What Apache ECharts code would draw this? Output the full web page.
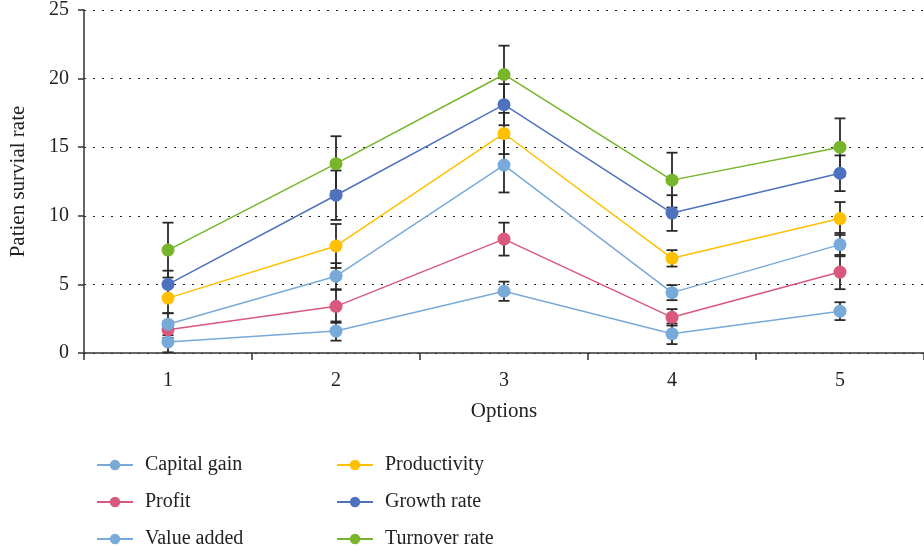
<!DOCTYPE html>
<html>
<head>
<meta charset="utf-8">
<script src="https://cdn.jsdelivr.net/npm/echarts@6/dist/echarts.min.js"></script>
<style>html,body{margin:0;padding:0;background:#fff;}#c{width:924px;height:552px;}</style>
</head>
<body>
<div id="c"></div>
<script>
const categories = ['1', '2', '3', '4', '5'];
const seriesNames = ['Capital gain', 'Profit', 'Value added', 'Productivity', 'Growth rate', 'Turnover rate'];
const capitalGain = [0.8, 1.6, 4.5, 1.4, 3.05];
const profit = [1.7, 3.4, 8.3, 2.6, 5.9];
const valueAdded = [2.1, 5.6, 13.7, 4.4, 7.9];
const productivity = [4.0, 7.8, 16.0, 6.9, 9.8];
const growthRate = [5.0, 11.5, 18.1, 10.2, 13.1];
const turnoverRate = [7.5, 13.8, 20.3, 12.6, 15.0];
const errCapitalGain = [0.75, 0.7, 0.7, 0.75, 0.65];
const errProfit = [0.6, 1.2, 1.2, 0.6, 1.25];
const errValueAdded = [0.8, 0.95, 2.0, 0.55, 0.85];
const errProductivity = [1.1, 1.6, 1.5, 0.6, 1.2];
const errGrowthRate = [1.0, 1.8, 1.5, 1.3, 1.3];
const errTurnoverRate = [2.0, 2.0, 2.1, 2.0, 2.1];
const yTicks = [0, 5, 10, 15, 20, 25];

const colors = ['#78AAD9', '#D9587D', '#78AAD9', '#FFC000', '#4F72BE', '#77B52A'];
const values = [capitalGain, profit, valueAdded, productivity, growthRate, turnoverRate];
const errs = [errCapitalGain, errProfit, errValueAdded, errProductivity, errGrowthRate, errTurnoverRate];
const font = 'Liberation Serif';

const chart = echarts.init(document.getElementById('c'));
const series = [];
values.forEach((vals, i) => {
  series.push({
    type: 'custom',
    name: seriesNames[i] + ' err',
    z: 1,
    silent: true,
    renderItem: function (params, api) {
      const x = api.value(0);
      const lo = api.coord([x, api.value(1)]);
      const hi = api.coord([x, api.value(2)]);
      const hw = 5.5;
      const st = { stroke: '#2a2a2a', lineWidth: 1.8 };
      return {
        type: 'group',
        children: [
          { type: 'line', shape: { x1: lo[0], y1: lo[1], x2: hi[0], y2: hi[1] }, style: st },
          { type: 'line', shape: { x1: lo[0] - hw, y1: lo[1], x2: lo[0] + hw, y2: lo[1] }, style: st },
          { type: 'line', shape: { x1: hi[0] - hw, y1: hi[1], x2: hi[0] + hw, y2: hi[1] }, style: st }
        ]
      };
    },
    encode: { x: 0, y: [1, 2] },
    data: vals.map((v, j) => [j, v - errs[i][j], v + errs[i][j]])
  });
});
values.forEach((vals, i) => {
  series.push({
    type: 'line',
    name: seriesNames[i],
    z: 3,
    data: vals,
    symbol: 'circle',
    symbolSize: 13,
    color: colors[i],
    lineStyle: { width: 1.5, color: colors[i] },
    itemStyle: { color: colors[i] }
  });
});

const legendCommon = {
  orient: 'vertical',
  padding: 0,
  itemWidth: 36,
  itemHeight: 13,
  itemGap: 17,
  textStyle: { fontFamily: font, fontSize: 20, color: '#222', padding: [0, 0, 0, 7] },
  top: 455
};

chart.setOption({
  animation: false,
  backgroundColor: '#fff',
  grid: { left: 84, right: -5, top: 9, bottom: 199, containLabel: false },
  legend: [
    Object.assign({}, legendCommon, { left: 96, data: seriesNames.slice(0, 3) }),
    Object.assign({}, legendCommon, { left: 336, data: seriesNames.slice(3, 6) })
  ],
  xAxis: {
    type: 'category',
    data: categories,
    boundaryGap: true,
    name: 'Options',
    nameLocation: 'middle',
    nameGap: 48,
    nameTextStyle: { fontFamily: font, fontSize: 21, color: '#222' },
    axisLine: { lineStyle: { color: '#333', width: 1.5 } },
    axisTick: { show: true, length: 7, lineStyle: { color: '#333', width: 1.5 } },
    axisLabel: { fontFamily: font, fontSize: 20, color: '#222', margin: 18 },
    splitLine: { show: false }
  },
  yAxis: {
    type: 'value',
    min: 0,
    max: 25,
    interval: 5,
    name: 'Patien survial rate',
    nameLocation: 'middle',
    nameGap: 55,
    nameTextStyle: { fontFamily: font, fontSize: 21, color: '#222' },
    axisLine: { show: true, lineStyle: { color: '#333', width: 1.5 } },
    axisTick: { show: true, length: 6, lineStyle: { color: '#333', width: 1.5 } },
    axisLabel: { fontFamily: font, fontSize: 20, color: '#222', margin: 15,
      formatter: v => yTicks.includes(v) ? String(v) : '' },
    splitLine: { show: true, lineStyle: { color: '#222', width: 1.2, type: [2, 7] } }
  },
  series: series
});
</script>
</body>
</html>
